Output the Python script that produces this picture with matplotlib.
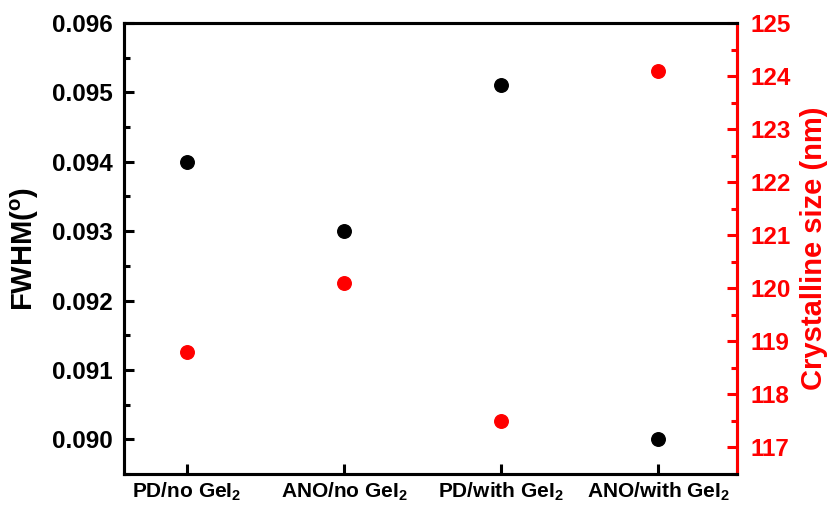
import matplotlib
matplotlib.use("Agg")
import matplotlib.pyplot as plt
from matplotlib.ticker import MultipleLocator, FormatStrFormatter

plt.rcParams['font.family'] = ['Liberation Sans', 'DejaVu Sans']
plt.rcParams['font.weight'] = 'bold'
plt.rcParams['mathtext.fontset'] = 'custom'
plt.rcParams['mathtext.rm'] = 'Liberation Sans:bold'
plt.rcParams['mathtext.it'] = 'Liberation Sans:bold'
plt.rcParams['mathtext.bf'] = 'Liberation Sans:bold'

categories = ['PD/no GeI$_2$', 'ANO/no GeI$_2$', 'PD/with GeI$_2$', 'ANO/with GeI$_2$']
fwhm = [0.0940, 0.0930, 0.0951, 0.0900]
crystal_size = [118.8, 120.1, 117.5, 124.1]

RED = '#ff0000'
x = list(range(1, len(categories) + 1))

fig = plt.figure(figsize=(8.3, 5.08), dpi=100)
ax = fig.add_axes([0.1494, 0.0669, 0.7386, 0.8878])
ax2 = ax.twinx()

ax.scatter(x, fwhm, s=95, color='black', zorder=3)
ax2.scatter(x, crystal_size, s=95, color=RED, zorder=3)

ax.set_xlim(0.6, 4.5)
ax.set_ylim(0.0895, 0.096)
ax2.set_ylim(116.5, 125)

ax.set_xticks(x)
ax.set_xticklabels(categories, fontsize=15, fontweight='bold')
ax.yaxis.set_major_locator(MultipleLocator(0.001))
ax.yaxis.set_minor_locator(MultipleLocator(0.0005))
ax.yaxis.set_major_formatter(FormatStrFormatter('%.3f'))
ax2.yaxis.set_major_locator(MultipleLocator(1))
ax2.yaxis.set_minor_locator(MultipleLocator(0.5))

lw = 2.2
for a in (ax, ax2):
    for sp in a.spines.values():
        sp.set_linewidth(lw)
ax2.spines['right'].set_color(RED)

ax.tick_params(axis='y', which='major', direction='in', length=7, width=lw,
               labelsize=17.5, pad=8)
ax.tick_params(axis='y', which='minor', direction='in', length=4.5, width=lw)
ax.tick_params(axis='x', which='major', direction='in', length=7, width=lw,
               labelsize=15, pad=5)
ax2.tick_params(axis='y', which='major', direction='in', length=7, width=lw,
                colors=RED, labelsize=17.5, pad=10)
ax2.tick_params(axis='y', which='minor', direction='in', length=4.5, width=lw,
                colors=RED)

for lab in ax.get_yticklabels() + ax2.get_yticklabels():
    lab.set_fontweight('bold')

ax.set_ylabel('FWHM($^o$)', fontsize=21, fontweight='bold', labelpad=8)
ax2.set_ylabel('Crystalline size (nm)', fontsize=21, fontweight='bold',
               color=RED, labelpad=6)

fig.savefig('out.png', dpi=100)
